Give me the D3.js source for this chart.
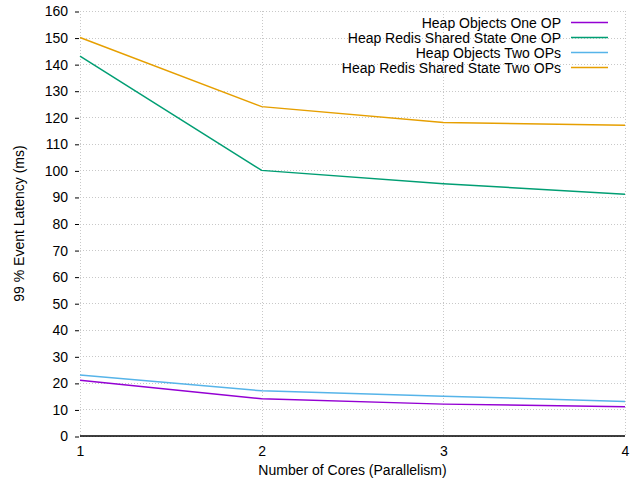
<!DOCTYPE html>
<html>
<head>
<meta charset="utf-8">
<script src="https://cdn.jsdelivr.net/npm/d3@7"></script>
<style>
  body { margin: 0; background: #fff; }
  text { font-family: "Liberation Sans", Arial, sans-serif; fill: #000; }
</style>
</head>
<body>
<div id="chart"></div>
<script>
// chart data
const cores = [1, 2, 3, 4]
const seriesNames = [
  "Heap Objects One OP",
  "Heap Redis Shared State One OP",
  "Heap Objects Two OPs",
  "Heap Redis Shared State Two OPs"
]
const heapOneOp = [21, 14, 12, 11]
const redisOneOp = [143, 100, 95, 91]
const heapTwoOps = [23, 17, 15, 13]
const redisTwoOps = [150, 124, 118, 117]
const yTicks = d3.range(0, 161, 10)
const colors = ["#9400d3", "#009e73", "#56b4e9", "#e69f00"]

const width = 635,
  height = 485,
  margin = { top: 11, bottom: 49, left: 80, right: 10 },
  fontSize = 14

const series = [heapOneOp, redisOneOp, heapTwoOps, redisTwoOps].map((vals, i) => ({
  name: seriesNames[i],
  color: colors[i],
  values: vals.map((v, j) => ({ x: cores[j], y: v }))
}))

const svg = d3.select("#chart")
  .append("svg")
  .attr("width", width)
  .attr("height", height)

const xScale = d3.scaleLinear()
  .domain([1, 4])
  .range([margin.left, width - margin.right])

const yScale = d3.scaleLinear()
  .domain([0, 160])
  .range([height - margin.bottom, margin.top])

// grid
svg.append("g")
  .selectAll("line")
  .data(yTicks)
  .join("line")
  .attr("x1", margin.left)
  .attr("x2", width - margin.right)
  .attr("y1", d => Math.round(yScale(d)) + 0.5)
  .attr("y2", d => Math.round(yScale(d)) + 0.5)
  .attr("stroke", "#c8c8c8")
  .attr("stroke-dasharray", "1,2")

svg.append("g")
  .selectAll("line")
  .data(cores)
  .join("line")
  .attr("x1", d => Math.round(xScale(d)) + 0.5)
  .attr("x2", d => Math.round(xScale(d)) + 0.5)
  .attr("y1", margin.top)
  .attr("y2", height - margin.bottom)
  .attr("stroke", "#c8c8c8")
  .attr("stroke-dasharray", "1,2")

// y axis
const yAxis = d3.axisLeft(yScale)
  .tickValues(yTicks)
  .tickSize(4)
  .tickPadding(7)

const yAxisGroup = svg.append("g")
  .attr("transform", `translate(${margin.left - 1}, 0.5)`)
  .call(yAxis)
yAxisGroup.select(".domain").remove()
yAxisGroup.selectAll("text").attr("font-size", fontSize)
yAxisGroup.selectAll("line").attr("stroke", "#000")

// x axis
const xAxis = d3.axisBottom(xScale)
  .tickValues(cores)
  .tickFormat(d3.format("d"))
  .tickSize(0)
  .tickPadding(10)

const xAxisGroup = svg.append("g")
  .attr("transform", `translate(0, ${height - margin.bottom})`)
  .call(xAxis)
xAxisGroup.select(".domain").remove()
xAxisGroup.selectAll("text").attr("font-size", fontSize)

// zero line
svg.append("line")
  .attr("x1", margin.left)
  .attr("x2", width - margin.right)
  .attr("y1", yScale(0))
  .attr("y2", yScale(0))
  .attr("stroke", "#000")
  .attr("stroke-width", 1.5)

// axis titles
svg.append("text")
  .attr("x", (margin.left + width - margin.right) / 2)
  .attr("y", 475)
  .attr("text-anchor", "middle")
  .attr("font-size", fontSize)
  .text("Number of Cores (Parallelism)")

svg.append("text")
  .attr("transform", `translate(24, ${(margin.top + height - margin.bottom) / 2})rotate(-90)`)
  .attr("text-anchor", "middle")
  .attr("font-size", fontSize)
  .text("99 % Event Latency (ms)")

// lines
const lineFunction = d3.line()
  .x(d => xScale(d.x))
  .y(d => yScale(d.y))

svg.append("g")
  .selectAll("path")
  .data(series)
  .join("path")
  .attr("d", d => lineFunction(d.values))
  .attr("fill", "none")
  .attr("stroke", d => d.color)
  .attr("stroke-width", 1.5)

// legend
const legend = svg.append("g")
  .selectAll("g")
  .data(series)
  .join("g")
  .attr("transform", (d, i) => `translate(0, ${22.5 + i * 15})`)

legend.append("text")
  .attr("x", 561)
  .attr("y", 5)
  .attr("text-anchor", "end")
  .attr("font-size", fontSize)
  .text(d => d.name)

legend.append("line")
  .attr("x1", 571)
  .attr("x2", 608)
  .attr("stroke", d => d.color)
  .attr("stroke-width", 1.5)
</script>
</body>
</html>
